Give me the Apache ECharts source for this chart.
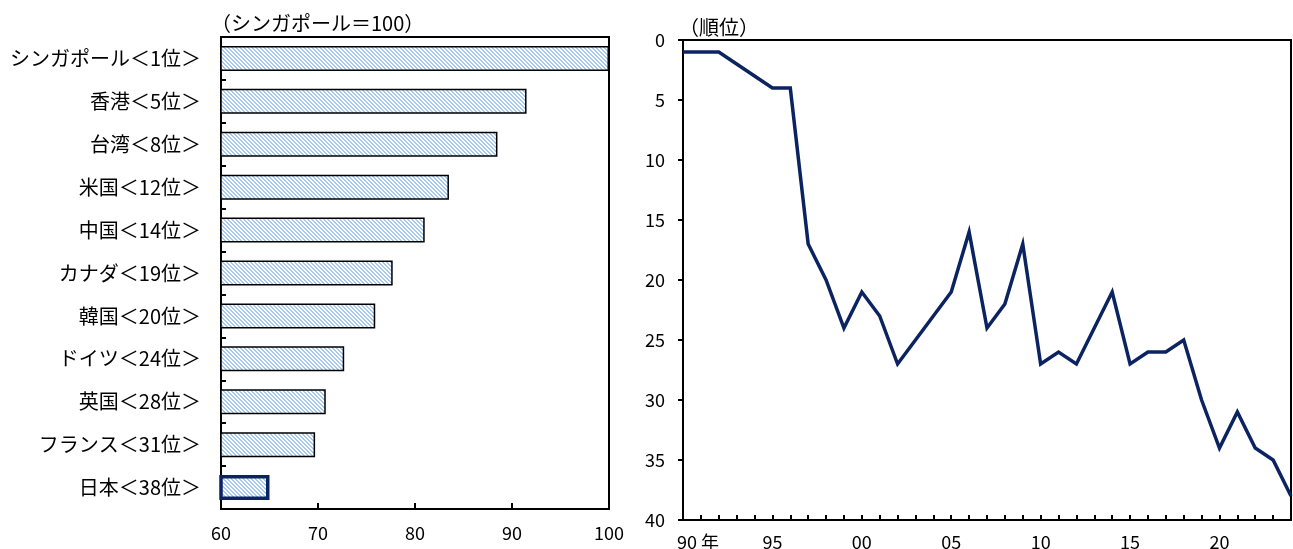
<!DOCTYPE html>
<html>
<head>
<meta charset="utf-8">
<script src="https://cdn.jsdelivr.net/npm/echarts@6/dist/echarts.min.js"></script>
<style>
  html, body { margin: 0; padding: 0; background: #fff; }
  #chart { width: 1293px; height: 549px; }
</style>
</head>
<body>
<div id="chart"></div>
<script>
// Competitiveness scores (Singapore = 100) and ranks, selected economies
const countries = ['シンガポール＜1位＞', '香港＜5位＞', '台湾＜8位＞', '米国＜12位＞', '中国＜14位＞',
  'カナダ＜19位＞', '韓国＜20位＞', 'ドイツ＜24位＞', '英国＜28位＞', 'フランス＜31位＞', '日本＜38位＞'];
const scores = [100, 91.5, 88.5, 83.5, 81.0, 77.7, 75.9, 72.7, 70.8, 69.7, 65.0];
const scoreTicks = [60, 70, 80, 90, 100];

// Japan's rank by year
const years = ['1990', '1991', '1992', '1993', '1994', '1995', '1996', '1997', '1998', '1999',
  '2000', '2001', '2002', '2003', '2004', '2005', '2006', '2007', '2008', '2009',
  '2010', '2011', '2012', '2013', '2014', '2015', '2016', '2017', '2018', '2019',
  '2020', '2021', '2022', '2023', '2024'];
const japanRank = [1, 1, 1, 2, 3, 4, 4, 17, 20, 24,
  21, 23, 27, 25, 23, 21, 16, 24, 22, 17,
  27, 26, 27, 24, 21, 27, 26, 26, 25, 30,
  34, 31, 34, 35, 38];

const FONT = '"Noto Sans CJK JP", "Noto Sans", sans-serif';
const NAVY = '#0b2461';

// diagonal hatch fill for the bars
function hatch() {
  const p = 4;
  const c = document.createElement('canvas');
  c.width = p; c.height = p;
  const ctx = c.getContext('2d');
  const img = ctx.createImageData(p, p);
  for (let y = 0; y < p; y++) {
    for (let x = 0; x < p; x++) {
      const i = (y * p + x) * 4;
      const on = (((x - y) % p) + p) % p < 2;
      img.data[i] = on ? 166 : 255;
      img.data[i + 1] = on ? 201 : 255;
      img.data[i + 2] = on ? 237 : 255;
      img.data[i + 3] = 255;
    }
  }
  ctx.putImageData(img, 0, 0);
  return c;
}
const pattern = { image: hatch(), repeat: 'repeat' };

const chart = echarts.init(document.getElementById('chart'), null, { renderer: 'canvas' });

const barData = scores.map((v, i) => {
  const last = i === scores.length - 1;
  return {
    value: v,
    itemStyle: {
      color: pattern,
      borderColor: last ? NAVY : '#000',
      borderWidth: last ? 3.5 : 1.5
    }
  };
});

chart.setOption({
  animation: false,
  backgroundColor: '#fff',
  textStyle: { fontFamily: FONT },
  title: [
    { text: '（シンガポール＝100）', left: 206, top: 8,
      textStyle: { fontFamily: FONT, fontSize: 20, fontWeight: 'normal', color: '#000' } },
    { text: '（順位）', left: 674, top: 12,
      textStyle: { fontFamily: FONT, fontSize: 20, fontWeight: 'normal', color: '#000' } }
  ],
  grid: [
    { left: 221, top: 37, width: 388, height: 472, show: true, borderColor: '#000', borderWidth: 2,
      containLabel: false, outerBoundsMode: 'none' },
    { left: 683, top: 40, width: 608, height: 480, show: true, borderColor: '#000', borderWidth: 2,
      containLabel: false, outerBoundsMode: 'none' }
  ],
  xAxis: [
    {
      gridIndex: 0, type: 'value', position: 'bottom',
      min: scoreTicks[0], max: scoreTicks[scoreTicks.length - 1], interval: 10,
      splitLine: { show: false },
      axisLine: { show: true, onZero: false, lineStyle: { color: '#000', width: 2 } },
      axisTick: { show: true, inside: true, length: 6, lineStyle: { color: '#000', width: 2 } },
      axisLabel: { color: '#000', fontSize: 18, margin: 15, fontFamily: FONT }
    },
    {
      gridIndex: 1, type: 'category', position: 'bottom', data: years, boundaryGap: false,
      axisLine: { show: true, onZero: false, lineStyle: { color: '#000', width: 2 } },
      axisTick: { show: true, inside: true, interval: 0, length: 5, lineStyle: { color: '#000', width: 2 } },
      axisLabel: {
        color: '#000', fontSize: 18, margin: 13, fontFamily: FONT, interval: 0,
        formatter: (v) => {
          const y = Number(v);
          if (y % 5 !== 0) return '';
          const s = v.slice(2);
          return y === 1990 ? '{y|' + s + ' 年}' : s;
        },
        rich: { y: { fontSize: 18, fontFamily: FONT, color: '#000', padding: [0, 0, 0, 30] } }
      }
    }
  ],
  yAxis: [
    {
      gridIndex: 0, type: 'category', data: countries, inverse: true,
      axisLine: { show: true, onZero: false, lineStyle: { color: '#000', width: 2 } },
      axisTick: { show: true, inside: true, length: 5, lineStyle: { color: '#000', width: 2 } },
      axisLabel: { color: '#000', fontSize: 20, margin: 20, fontFamily: FONT }
    },
    {
      gridIndex: 1, type: 'value', inverse: true, min: 0, max: 40, interval: 5,
      splitLine: { show: false },
      axisLine: { show: true, onZero: false, lineStyle: { color: '#000', width: 2 } },
      axisTick: { show: true, inside: false, length: 5, lineStyle: { color: '#000', width: 2 } },
      axisLabel: { color: '#000', fontSize: 18, margin: 18, fontFamily: FONT }
    }
  ],
  series: [
    {
      type: 'bar', xAxisIndex: 0, yAxisIndex: 0,
      barWidth: 25,
      data: barData
    },
    {
      type: 'line', xAxisIndex: 1, yAxisIndex: 1,
      data: japanRank,
      symbol: 'none',
      lineStyle: { color: NAVY, width: 3.5, join: 'miter' }
    }
  ]
});
</script>
</body>
</html>
